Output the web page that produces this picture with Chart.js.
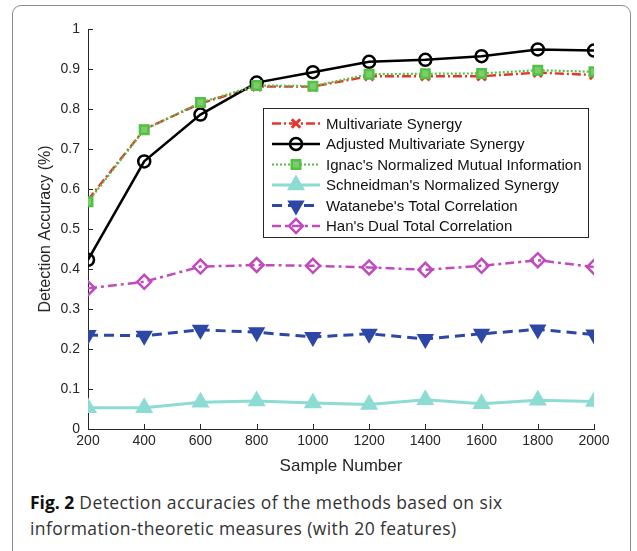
<!DOCTYPE html>
<html>
<head>
<meta charset="utf-8">
<script src="https://cdn.jsdelivr.net/npm/chart.js@4"></script>
<style>
  html, body { margin: 0; padding: 0; background: #fff; }
  #wrap { position: relative; width: 637px; height: 551px; overflow: hidden; }
  #frame {
    position: absolute; left: 12px; top: 5px; width: 619px; height: 600px;
    border: 1px solid #8c8c8c; border-radius: 9px; box-sizing: border-box;
  }
  #chart { position: absolute; left: 0; top: 0; }
  #caption {
    position: absolute; left: 30px; top: 489px; width: 600px;
    font-family: "Open Sans", "Noto Sans", sans-serif; font-size: 17.5px;
    letter-spacing: 0.4px; line-height: 26px; color: #333;
  }
  #caption b { color: #111; letter-spacing: 0; }
</style>
</head>
<body>
<div id="wrap">
  <div id="frame"></div>
  <canvas id="chart" width="637" height="480"></canvas>
  <div id="caption"><b>Fig. 2</b> Detection accuracies of the methods based on six<br>information-theoretic measures (with 20 features)</div>
</div>
<script>
// ---- data ----
const sampleNumbers = [200, 400, 600, 800, 1000, 1200, 1400, 1600, 1800, 2000];

const multivariateSynergy = [0.573, 0.749, 0.814, 0.856, 0.856, 0.882, 0.882, 0.882, 0.891, 0.885];
const adjustedSynergy     = [0.423, 0.669, 0.786, 0.866, 0.892, 0.918, 0.923, 0.932, 0.949, 0.946];
const ignacNMI            = [0.568, 0.748, 0.816, 0.859, 0.857, 0.887, 0.888, 0.889, 0.897, 0.893];
const schneidmanSynergy   = [0.053, 0.053, 0.067, 0.070, 0.065, 0.061, 0.073, 0.063, 0.072, 0.069];
const watanabeTC          = [0.235, 0.233, 0.248, 0.242, 0.230, 0.238, 0.225, 0.238, 0.249, 0.236];
const hanDTC              = [0.352, 0.368, 0.406, 0.410, 0.408, 0.404, 0.398, 0.408, 0.422, 0.405];

const seriesNames = [
  'Multivariate Synergy',
  'Adjusted Multivariate Synergy',
  "Ignac's Normalized Mutual Information",
  "Schneidman's Normalized Synergy",
  "Watanebe's Total Correlation",
  "Han's Dual Total Correlation"
];

const AXIS = '#262626';
const FONT = '"Liberation Sans", Arial, Helvetica, sans-serif';

function series(i, values, color, dash, width, style, radius, fill, rot) {
  return {
    label: seriesNames[i],
    data: sampleNumbers.map((x, k) => ({ x: x, y: values[k] })),
    borderColor: color,
    borderWidth: width,
    borderDash: dash,
    pointStyle: style,
    pointRadius: radius,
    pointBorderColor: color,
    pointBackgroundColor: fill,
    pointBorderWidth: style === 'crossRot' ? 3 : 2.5,
    pointRotation: rot || 0,
    tension: 0,
    order: 6 - i
  };
}

const datasets = [
  series(0, multivariateSynergy, '#e2372c', [9, 3, 2, 3], 2.4, 'crossRot', 6, '#e2372c'),
  series(1, adjustedSynergy, '#000000', [], 2.5, 'circle', 6, 'rgba(255,255,255,0)'),
  series(2, ignacNMI, '#55c046', [2, 2], 2.2, 'rect', 6, '#7ccd6c'),
  series(3, schneidmanSynergy, '#8ddcd3', [], 3, 'triangle', 8, '#8ddcd3'),
  series(4, watanabeTC, '#2d47a6', [10, 6], 3, 'triangle', 7.5, '#2d47a6', 180),
  series(5, hanDTC, '#c04bbd', [9, 4, 3, 4], 2.5, 'rectRot', 7, 'rgba(255,255,255,0)')
];

// inward tick marks, MATLAB style
const innerTicks = {
  id: 'innerTicks',
  afterDatasetsDraw(chart) {
    const ctx = chart.ctx, xs = chart.scales.x, ys = chart.scales.y;
    ctx.save();
    ctx.strokeStyle = AXIS;
    ctx.lineWidth = 1;
    ctx.setLineDash([]);
    ctx.beginPath();
    ys.ticks.forEach(t => {
      const y = Math.round(ys.getPixelForValue(t.value)) + 0.5;
      ctx.moveTo(xs.left, y);
      ctx.lineTo(xs.left + 5, y);
    });
    xs.ticks.forEach(t => {
      const x = Math.round(xs.getPixelForValue(t.value)) + 0.5;
      ctx.moveTo(x, ys.bottom);
      ctx.lineTo(x, ys.bottom - 5);
    });
    ctx.stroke();
    ctx.restore();
  }
};

// boxed legend inside the plot area
const boxLegend = {
  id: 'boxLegend',
  afterDraw(chart) {
    const ctx = chart.ctx;
    const bx = 263, by = 108, bw = 325, bh = 129;
    ctx.save();
    ctx.fillStyle = '#fff';
    ctx.fillRect(bx, by, bw, bh);
    ctx.strokeStyle = AXIS;
    ctx.lineWidth = 1;
    ctx.setLineDash([]);
    ctx.strokeRect(bx + 0.5, by + 0.5, bw, bh);
    ctx.font = '15px ' + FONT;
    ctx.textBaseline = 'middle';
    chart.data.datasets.forEach((ds, i) => {
      const y = by + 15.5 + i * 20.5;
      ctx.strokeStyle = ds.borderColor;
      ctx.lineWidth = ds.borderWidth;
      ctx.setLineDash(ds.borderDash);
      ctx.beginPath();
      ctx.moveTo(272, y);
      ctx.lineTo(320, y);
      ctx.stroke();
      ctx.setLineDash([]);
      ctx.fillStyle = ds.pointBackgroundColor;
      ctx.strokeStyle = ds.pointBorderColor;
      ctx.lineWidth = ds.pointBorderWidth;
      Chart.helpers.drawPoint(ctx, {
        pointStyle: ds.pointStyle, rotation: ds.pointRotation,
        radius: ds.pointRadius, borderWidth: ds.pointBorderWidth
      }, 296, y);
      ctx.fillStyle = '#111';
      ctx.fillText(ds.label, 326, y + 1);
    });
    ctx.restore();
  }
};

new Chart(document.getElementById('chart'), {
  type: 'line',
  data: { datasets: datasets },
  options: {
    responsive: false,
    animation: false,
    devicePixelRatio: 1,
    layout: { padding: { left: 36, top: 29, right: 43, bottom: 0 } },
    plugins: { legend: { display: false }, tooltip: { enabled: false } },
    scales: {
      x: {
        type: 'linear', min: 200, max: 2000,
        afterFit(s) { s.height = 51; },
        ticks: {
          stepSize: 200, color: AXIS, font: { family: FONT, size: 14 }, padding: 4, maxRotation: 0,
          callback: v => String(v)
        },
        grid: { display: false, drawTicks: false },
        border: { display: true, color: AXIS, width: 1 },
        title: { display: true, text: 'Sample Number', color: AXIS, font: { family: FONT, size: 17 }, padding: { top: 0, bottom: 3 } }
      },
      y: {
        min: 0, max: 1,
        afterFit(s) { s.width = 52; },
        ticks: {
          stepSize: 0.1, color: AXIS, font: { family: FONT, size: 14 }, padding: 8,
          callback: v => String(Math.round(v * 10) / 10)
        },
        grid: { display: false, drawTicks: false },
        border: { display: true, color: AXIS, width: 1 },
        title: { display: true, text: 'Detection Accuracy (%)', color: AXIS, font: { family: FONT, size: 16 }, padding: { top: 0, bottom: 0 } }
      }
    }
  },
  plugins: [innerTicks, boxLegend]
});
</script>
</body>
</html>
